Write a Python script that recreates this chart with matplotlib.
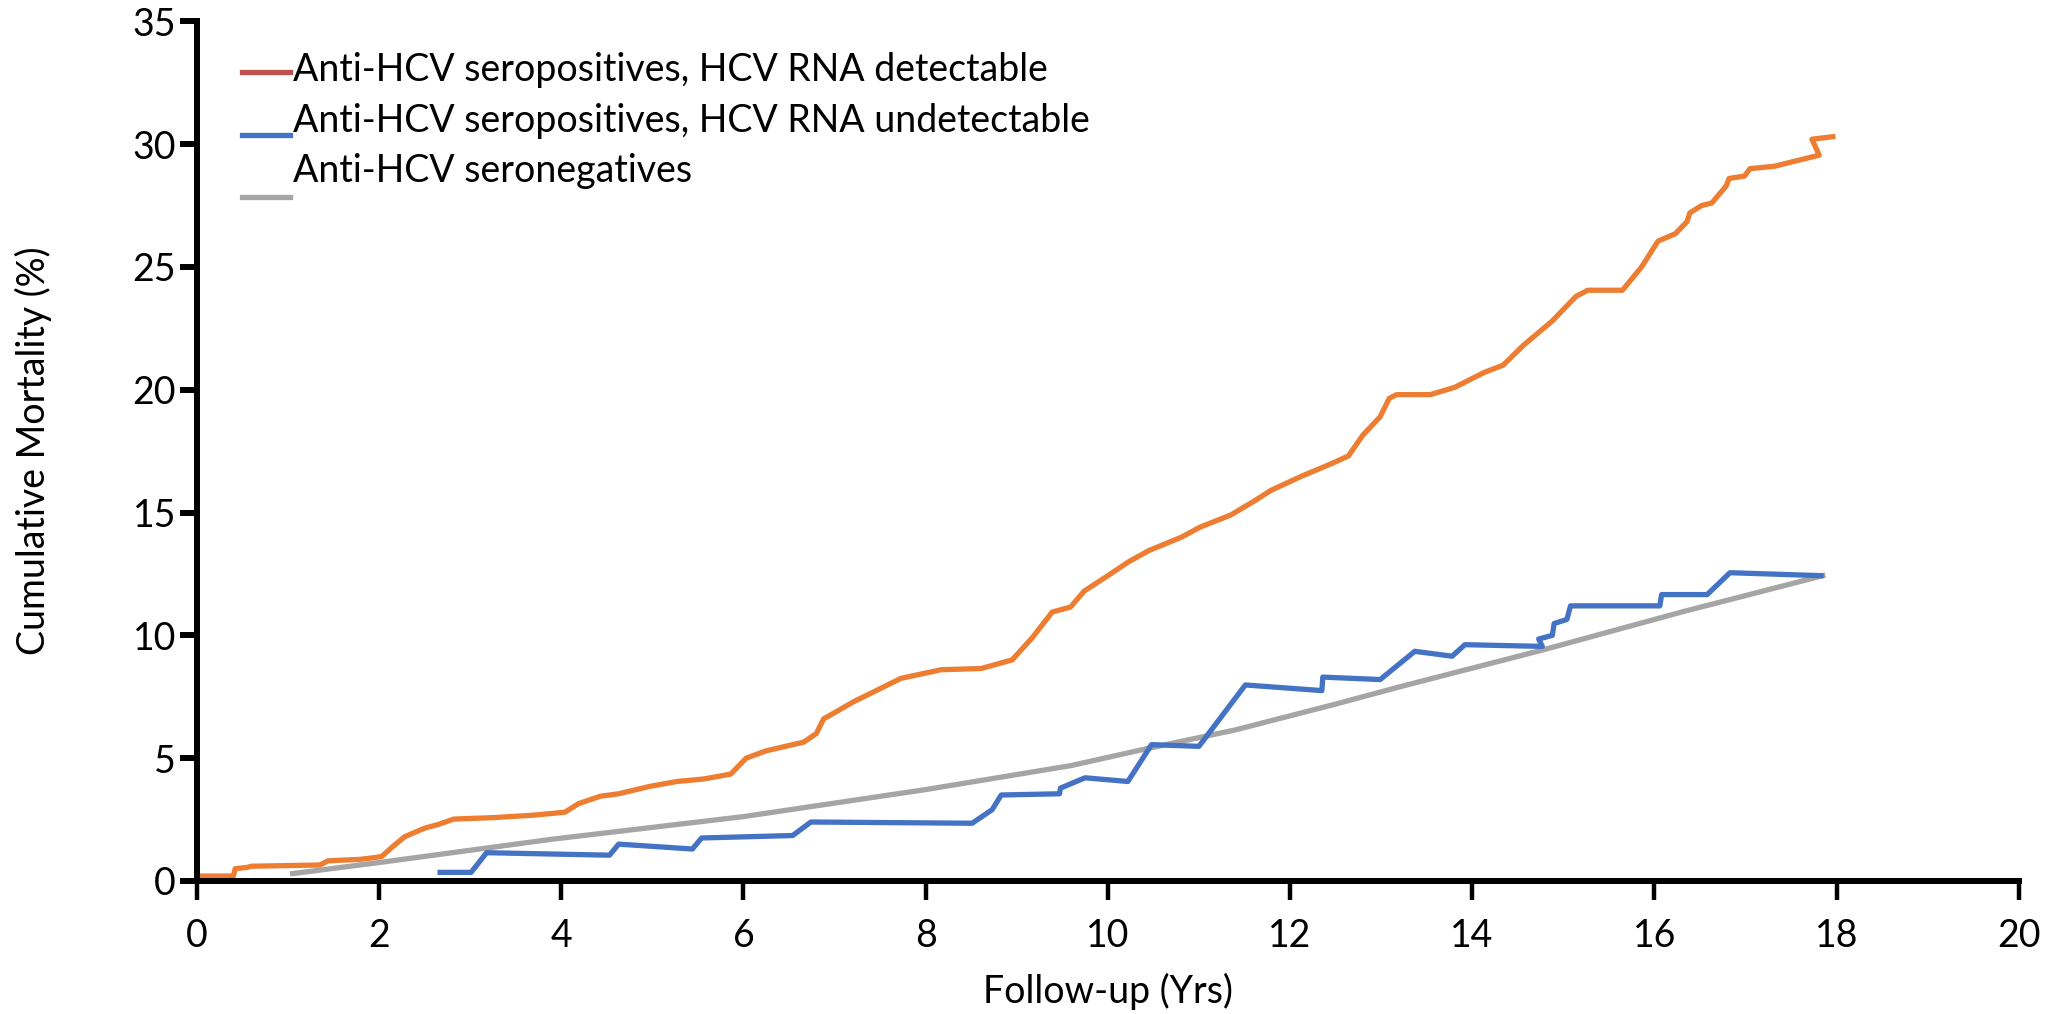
import matplotlib
matplotlib.use("Agg")
import matplotlib.pyplot as plt
from matplotlib.lines import Line2D

plt.rcParams['font.family'] = ['Lato', 'DejaVu Sans']

# cumulative mortality (%) against follow-up (years)
rna_pos_yrs = [0.05, 0.40, 0.42, 0.55, 0.60, 1.35, 1.44, 1.79, 1.95, 2.03, 2.15, 2.28,
               2.50, 2.65, 2.82, 3.26, 3.70, 4.04, 4.19, 4.43, 4.63, 4.97, 5.27, 5.56,
               5.86, 6.03, 6.25, 6.66, 6.80, 6.88, 7.00, 7.21, 7.43, 7.73, 8.17, 8.61,
               8.95, 9.17, 9.39, 9.59, 9.74, 10.03, 10.23, 10.45, 10.81, 11.01, 11.35,
               11.60, 11.79, 12.14, 12.43, 12.64, 12.80, 12.99, 13.09, 13.17, 13.54,
               13.81, 14.13, 14.34, 14.56, 14.72, 14.88, 15.01, 15.14, 15.27, 15.65,
               15.86, 16.04, 16.23, 16.36, 16.39, 16.52, 16.63, 16.79, 16.82, 16.99,
               17.05, 17.32, 17.81, 17.73, 17.96]
rna_pos_mort = [0.20, 0.20, 0.50, 0.55, 0.60, 0.65, 0.82, 0.88, 0.95, 1.00, 1.40, 1.80,
                2.15, 2.30, 2.52, 2.58, 2.68, 2.80, 3.15, 3.45, 3.55, 3.85, 4.05, 4.15,
                4.35, 5.00, 5.30, 5.65, 6.00, 6.60, 6.85, 7.30, 7.70, 8.25, 8.60, 8.65,
                9.00, 9.90, 10.95, 11.15, 11.80, 12.50, 13.00, 13.45, 14.00, 14.40, 14.90,
                15.45, 15.90, 16.50, 16.95, 17.30, 18.15, 18.90, 19.65, 19.80, 19.80,
                20.10, 20.70, 21.00, 21.80, 22.30, 22.80, 23.30, 23.80, 24.05, 24.05,
                25.00, 26.05, 26.35, 26.85, 27.20, 27.50, 27.60, 28.30, 28.60, 28.70,
                29.00, 29.10, 29.55, 30.20, 30.30]

rna_neg_yrs = [2.67, 3.01, 3.18, 4.53, 4.63, 5.44, 5.54, 6.54, 6.74, 8.51, 8.73, 8.83,
               9.47, 9.48, 9.75, 10.22, 10.48, 11.00, 11.51, 12.35, 12.36, 12.99, 13.37,
               13.78, 13.92, 14.77, 14.73, 14.88, 14.90, 15.04, 15.08, 16.06, 16.08,
               16.58, 16.83, 17.83]
rna_neg_mort = [0.35, 0.35, 1.15, 1.05, 1.50, 1.30, 1.75, 1.85, 2.40, 2.35, 2.90, 3.50,
                3.55, 3.78, 4.20, 4.05, 5.55, 5.48, 7.98, 7.75, 8.30, 8.20, 9.35,
                9.15, 9.62, 9.55, 9.85, 10.00, 10.48, 10.65, 11.20, 11.20, 11.66,
                11.66, 12.55, 12.43]

seroneg_yrs = [1.05, 2.0, 3.9, 6.0, 8.0, 9.6, 10.42, 11.4, 12.5, 13.2, 14.77, 16.31, 17.85]
seroneg_mort = [0.30, 0.75, 1.70, 2.62, 3.72, 4.70, 5.38, 6.15, 7.20, 7.90, 9.40, 10.96, 12.43]

legend_labels = ["Anti-HCV seropositives, HCV RNA detectable",
                 "Anti-HCV seropositives, HCV RNA undetectable",
                 "Anti-HCV seronegatives"]

orange = "#ED7D31"
blue = "#4472C4"
grey = "#A5A5A5"
red = "#C0504D"
fs = 27

fig = plt.figure(figsize=(20.62, 10.14), dpi=100)
ax = fig.add_axes([0.0955, 0.1312, 0.8835, 0.8478])

lw = 3.8
ax.plot(seroneg_yrs, seroneg_mort, color=grey, lw=lw, solid_joinstyle='round')
ax.plot(rna_neg_yrs, rna_neg_mort, color=blue, lw=lw, solid_joinstyle='round')
ax.plot(rna_pos_yrs, rna_pos_mort, color=orange, lw=lw, solid_joinstyle='round')

ax.set_xlim(0, 20)
ax.set_ylim(0, 35)
ax.set_xticks(range(0, 21, 2))
ax.set_yticks(range(0, 36, 5))
for side in ['top', 'right']:
    ax.spines[side].set_visible(False)
for side in ['left', 'bottom']:
    ax.spines[side].set_linewidth(4.3)
ax.tick_params(axis='x', direction='out', length=14, width=3.2, labelsize=fs, pad=13)
ax.tick_params(axis='y', direction='out', length=12, width=4.3, labelsize=fs, pad=3)

ax.set_xlabel("Follow-up (Yrs)", fontsize=fs, va='center')
ax.set_ylabel("Cumulative Mortality (%)", fontsize=fs, va='center')
ax.xaxis.set_label_coords(0.5, -0.129)
ax.yaxis.set_label_coords(-0.090, 0.5)

# hand-placed key, swatches sit a little off their labels
sw_x = (242 / 2062, 290 / 2062)
sw_y = [1 - 72 / 1014, 1 - 135 / 1014, 1 - 197 / 1014]
txt_y = [1 - 70 / 1014, 1 - 121 / 1014, 1 - 171 / 1014]
for col, sy, ty, lab in zip([red, blue, grey], sw_y, txt_y, legend_labels):
    fig.add_artist(Line2D(sw_x, [sy, sy], color=col, lw=lw, transform=fig.transFigure))
    fig.text(293 / 2062, ty, lab, fontsize=fs, va='center', ha='left')

fig.savefig("out.png", dpi=100)
